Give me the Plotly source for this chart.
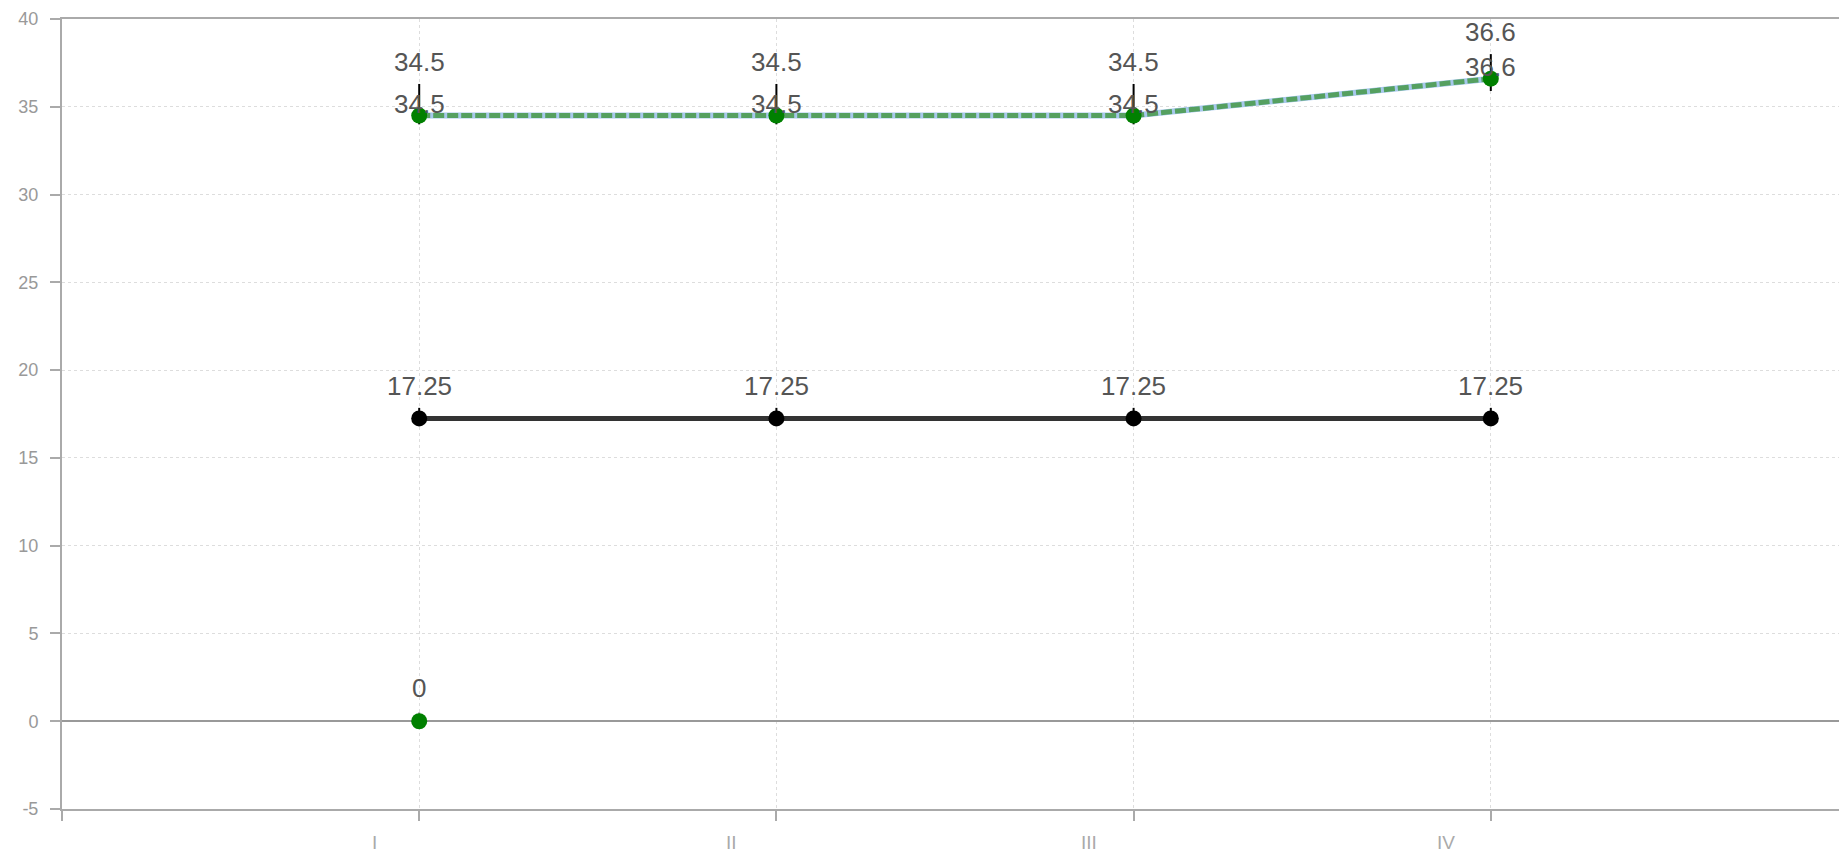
import plotly.graph_objects as go

categories = ["I", "II", "III", "IV"]
x_pos = [1, 2, 3, 4]

upper_values = [34.5, 34.5, 34.5, 36.6]
upper_err_plus = [1.8, 1.8, 1.8, 1.4]
upper_err_minus = [0.5, 0.5, 0.5, 0.7]

mid_values = [17.25, 17.25, 17.25, 17.25]
mid_err_plus = [0.6, 0.6, 0.6, 0.6]
mid_err_minus = [0.4, 0.4, 0.4, 0.4]

zero_x = [1]
zero_values = [0]
zero_err_plus = [0.5]

y_ticks = [-5, 0, 5, 10, 15, 20, 25, 30, 35, 40]
y_tick_text = ["-5", "0", "5", "10", "15", "20", "25", "30", "35", "40"]

fig = go.Figure()

# light blue underlying line
fig.add_trace(go.Scatter(
    x=x_pos, y=upper_values, mode="lines",
    line=dict(color="#a6c8ec", width=6), hoverinfo="skip", showlegend=False))
# green dashed line with markers and error bars
fig.add_trace(go.Scatter(
    x=x_pos, y=upper_values, mode="lines+markers",
    line=dict(color="#55a060", width=5, dash="11px,3px"),
    marker=dict(color="#008000", size=16),
    error_y=dict(type="data", symmetric=False, array=upper_err_plus,
                 arrayminus=upper_err_minus, color="#000000", thickness=2, width=0),
    showlegend=False))

fig.add_trace(go.Scatter(
    x=x_pos, y=mid_values, mode="lines+markers",
    line=dict(color="#333333", width=5),
    marker=dict(color="#000000", size=16),
    error_y=dict(type="data", symmetric=False, array=mid_err_plus,
                 arrayminus=mid_err_minus, color="#000000", thickness=2, width=0),
    showlegend=False))

fig.add_trace(go.Scatter(
    x=zero_x, y=zero_values, mode="markers",
    marker=dict(color="#008000", size=16),
    error_y=dict(type="data", symmetric=False, array=zero_err_plus,
                 arrayminus=[0], color="#888888", thickness=2, width=0),
    showlegend=False))

label_font = dict(family="Liberation Sans, Arial, sans-serif", size=26, color="#555555")
annotations = []
for xv, v, ep in zip(x_pos, upper_values, upper_err_plus):
    annotations.append(dict(x=xv, y=v + ep, text=f"{v:g}", showarrow=False,
                            yshift=22, font=label_font))
    annotations.append(dict(x=xv, y=v, text=f"{v:g}", showarrow=False,
                            yshift=12, font=label_font))
for xv, v, ep in zip(x_pos, mid_values, mid_err_plus):
    annotations.append(dict(x=xv, y=v + ep, text=f"{v:g}", showarrow=False,
                            yshift=22, font=label_font))
for xv, v, ep in zip(zero_x, zero_values, zero_err_plus):
    annotations.append(dict(x=xv, y=v + ep, text=f"{v:g}", showarrow=False,
                            yshift=24, font=label_font))
for xv, c in zip(x_pos, categories):
    annotations.append(dict(x=xv, y=0, yref="paper", text=c, showarrow=False,
                            xshift=-45, yshift=-46,
                            font=dict(family="Liberation Sans, Arial, sans-serif",
                                      size=19, color="#aaaaaa")))

fig.update_layout(
    width=1847, height=854,
    margin=dict(l=54, r=7, t=11, b=53),
    paper_bgcolor="white", plot_bgcolor="white",
    annotations=annotations,
    font=dict(family="Liberation Sans, Arial, sans-serif"),
)
fig.update_xaxes(
    range=[0, 5], tickvals=[0, 1, 2, 3, 4, 5], ticktext=["", "", "", "", "", ""],
    ticks="outside", ticklen=10, tickcolor="#aaaaaa", tickwidth=1.5,
    showline=True, linecolor="#aaaaaa", linewidth=2, mirror=True,
    showgrid=True, gridcolor="#dddddd", griddash="dot", gridwidth=1,
    zeroline=False, fixedrange=True, automargin=False,
)
fig.update_yaxes(
    range=[-5, 40], tickvals=y_ticks, ticktext=y_tick_text,
    ticks="outside", ticklen=10, tickcolor="#aaaaaa", tickwidth=1.5,
    tickfont=dict(size=18, color="#999999"), ticklabelstandoff=8,
    showline=True, linecolor="#aaaaaa", linewidth=2, mirror=True,
    showgrid=True, gridcolor="#dddddd", griddash="dot", gridwidth=1,
    zeroline=True, zerolinecolor="#999999", zerolinewidth=1.5,
    automargin=False,
)

fig.write_html("out.html")
